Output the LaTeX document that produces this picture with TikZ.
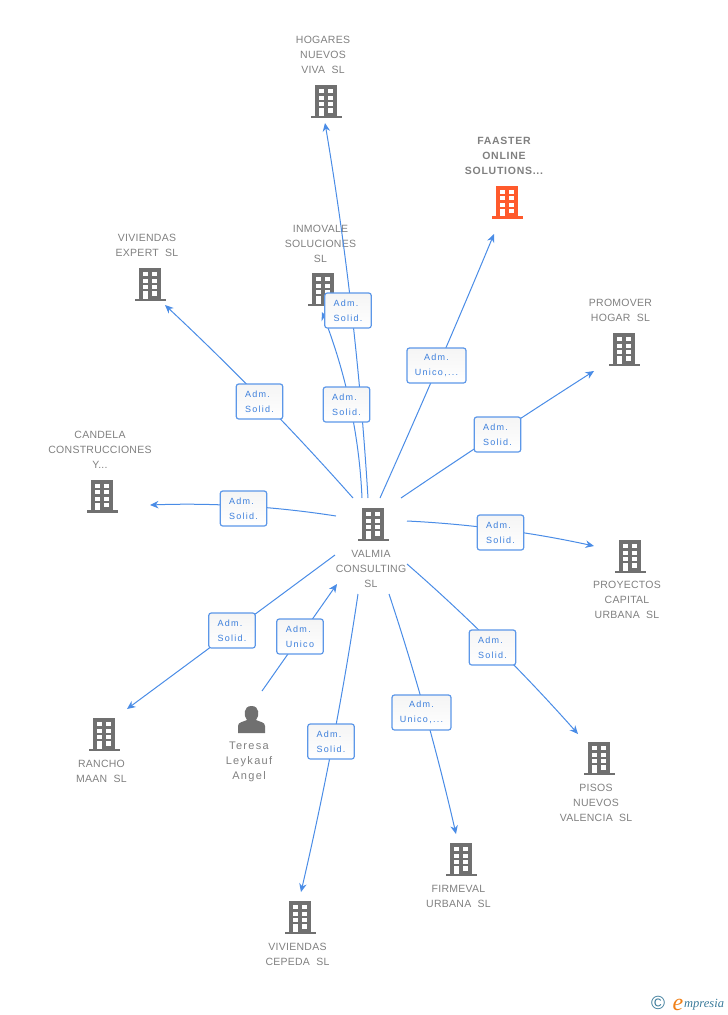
\documentclass[tikz,border=0pt]{standalone}
\usepackage{fontspec}
\setmainfont{Liberation Sans}
\newfontfamily\lblfont[LetterSpace=14]{Liberation Sans}
\newfontfamily\namefont[LetterSpace=2.5]{Liberation Sans}
\newfontfamily\hotfont[LetterSpace=7]{Liberation Sans}
\newfontfamily\perfont[LetterSpace=12]{Liberation Sans}
\newfontfamily\logofont{Liberation Serif}
\usetikzlibrary{arrows.meta,calc}
\definecolor{edgeblue}{HTML}{4A8CE6}
\definecolor{boxblue}{HTML}{5C97E8}
\definecolor{txtblue}{HTML}{3C7FDC}
\definecolor{iconGrey}{HTML}{707070}
\definecolor{txtGrey}{HTML}{808080}
\definecolor{hot}{HTML}{FF5A2C}
\definecolor{logoteal}{HTML}{3A7A9A}
\definecolor{logoorange}{HTML}{F08018}
\newcommand{\bentlink}[3]{\draw[arrowlink] (#1) .. controls ($(#1)!0.6667!(#2)$) and ($(#3)!0.6667!(#2)$) .. (#3);}
\tikzset{
  x=1pt,y=-1pt,
  bldgshape/.pic={
    \fill[pic actions] (-11,-16.5) rectangle (11,16.5);
    \fill[pic actions] (-15.5,14) rectangle (15.5,16.5);
    \fill[white] (-7.5,-12.5) rectangle (-2.5,-8.5);
    \fill[white] (2,-12.5) rectangle (7,-8.5);
    \fill[white] (-7.5,-6) rectangle (-2.5,-2);
    \fill[white] (2,-6) rectangle (7,-2);
    \fill[white] (-7.5,0.5) rectangle (-2.5,4.5);
    \fill[white] (2,0.5) rectangle (7,4.5);
    \fill[white] (-7.5,6.5) rectangle (-2.5,14);
    \fill[white] (2,6.5) rectangle (7,11);
  },
  iconbox/.style={inner sep=0pt,minimum width=31pt,minimum height=33pt},
  nametext/.style={align=center,text=txtGrey,inner sep=0pt,font=\fontsize{10.5}{15}\namefont},
  hottext/.style={align=center,text=txtGrey,inner sep=0pt,font=\fontsize{10.5}{15}\hotfont\bfseries},
  pertext/.style={align=center,text=txtGrey,inner sep=0pt,font=\fontsize{11}{15}\perfont},
  link/.style={draw=edgeblue,line width=1pt},
  arrowlink/.style={link,-{Stealth[length=8.5pt,width=7.5pt]}},
  rolebox/.style={draw=boxblue,line width=1.2pt,rounded corners=2.5pt,top color=black!4,bottom color=white,
     text=txtblue,inner sep=0pt,minimum height=35pt,font=\fontsize{9}{15}\lblfont},
  solidbox/.style={rolebox,minimum width=46.5pt,align=left},
  unicobox/.style={rolebox,minimum width=59pt,align=center},
}
\begin{document}
\begin{tikzpicture}
\useasboundingbox (0,0) rectangle (728,1015);
% icons
\node[iconbox] (hogares) at (326,101.5) {};   \pic[iconGrey] at (hogares) {bldgshape};
\node[iconbox] (faaster) at (507,202) {};     \pic[hot] at (faaster) {bldgshape};
\node[iconbox] (expert) at (150,284.5) {};    \pic[iconGrey] at (expert) {bldgshape};
\node[iconbox] (inmovale) at (323,289.5) {};  \pic[iconGrey] at (inmovale) {bldgshape};
\node[iconbox] (promover) at (624,349.5) {};  \pic[iconGrey] at (promover) {bldgshape};
\node[iconbox] (candela) at (102,496) {};     \pic[iconGrey] at (candela) {bldgshape};
\node[iconbox] (valmia) at (373,524.5) {};    \pic[iconGrey] at (valmia) {bldgshape};
\node[iconbox] (proyectos) at (630,556.5) {}; \pic[iconGrey] at (proyectos) {bldgshape};
\node[iconbox] (rancho) at (104,734.5) {};    \pic[iconGrey] at (rancho) {bldgshape};
\node[iconbox] (pisos) at (599,758.5) {};     \pic[iconGrey] at (pisos) {bldgshape};
\node[iconbox] (firmeval) at (461,859.5) {};  \pic[iconGrey] at (firmeval) {bldgshape};
\node[iconbox] (cepeda) at (300,917.5) {};    \pic[iconGrey] at (cepeda) {bldgshape};
% person
\node[inner sep=0pt,minimum width=27pt,minimum height=27pt] (teresa) at (251.5,719.5) {};
\fill[iconGrey] (238,733) -- (238,726) .. controls (238,722) and (243,722) .. (247,720)
  .. controls (243.5,716) and (243,706) .. (251.5,706)
  .. controls (260,706) and (259.5,716) .. (256,720)
  .. controls (260,722) and (265,722) .. (265,726) -- (265,733) -- cycle;
% names
\node[nametext] (hogaresT) at (323,55) {HOGARES\\NUEVOS\\VIVA\ \ SL};
\node[hottext] (faasterT) at (504,155.5) {FAASTER\\ONLINE\\SOLUTIONS...};
\node[nametext] (expertT) at (147,245.5) {VIVIENDAS\\EXPERT\ \ SL};
\node[nametext] (inmovaleT) at (320.5,244) {INMOVALE\\SOLUCIONES\\SL};
\node[nametext] (promoverT) at (620.5,310.5) {PROMOVER\\HOGAR\ \ SL};
\node[nametext] (candelaT) at (100,450) {CANDELA\\CONSTRUCCIONES\\Y...};
\node[nametext] (valmiaT) at (371,569) {VALMIA\\CONSULTING\\SL};
\node[nametext] (proyectosT) at (627,600) {PROYECTOS\\CAPITAL\\URBANA\ \ SL};
\node[nametext] (ranchoT) at (101.5,771.5) {RANCHO\\MAAN\ \ SL};
\node[nametext] (pisosT) at (596,803) {PISOS\\NUEVOS\\VALENCIA\ \ SL};
\node[nametext] (firmevalT) at (458.5,896.5) {FIRMEVAL\\URBANA\ \ SL};
\node[nametext] (cepedaT) at (297.5,954.5) {VIVIENDAS\\CEPEDA\ \ SL};
\node[pertext] (teresaT) at (249,762) {Teresa\\Leykauf\\Angel};
% connector ends
\coordinate (e1) at (368,498);   \coordinate (t1) at (325,123);   \coordinate (q1) at (356.5,309.5);
\coordinate (e2) at (362,498);   \coordinate (t2) at (322,312);   \coordinate (q2) at (358,405);
\coordinate (e3) at (380,498);   \coordinate (t3) at (494,234);   \coordinate (q3) at (440,364);
\coordinate (e4) at (401,498);   \coordinate (t4) at (594,371);   \coordinate (q4) at (497,433);
\coordinate (e5) at (407,521);   \coordinate (t5) at (594,546);   \coordinate (q5) at (500,525.5);
\coordinate (e6) at (407,564);   \coordinate (t6) at (578,734);   \coordinate (q6) at (495.5,641);
\coordinate (e7) at (389,594);   \coordinate (t7) at (456,834);   \coordinate (q7) at (427.5,710);
\coordinate (e8) at (358,594);   \coordinate (t8) at (301,892);   \coordinate (q8) at (336.5,739);
\coordinate (e9) at (262,691);   \coordinate (t9) at (337,584);
\coordinate (e10) at (335,555);  \coordinate (t10) at (127,709);
\coordinate (e11) at (336,516);  \coordinate (t11) at (150,505);  \coordinate (q11) at (243,501.5);
\coordinate (e12) at (353,498);  \coordinate (t12) at (165,305);  \coordinate (q12) at (265,398.5);
% connectors
\bentlink{e1}{q1}{t1}
\bentlink{e2}{q2}{t2}
\bentlink{e3}{q3}{t3}
\bentlink{e4}{q4}{t4}
\bentlink{e5}{q5}{t5}
\bentlink{e6}{q6}{t6}
\bentlink{e7}{q7}{t7}
\bentlink{e8}{q8}{t8}
\draw[arrowlink] (e9) -- (t9);
\draw[arrowlink] (e10) -- (t10);
\bentlink{e11}{q11}{t11}
\bentlink{e12}{q12}{t12}
% labels
\node[solidbox] (l1) at (348,310.5) {Adm.\\Solid.};
\node[solidbox] (l2) at (346.5,404.5) {Adm.\\Solid.};
\node[unicobox] (l3) at (436.5,365.5) {Adm.\\Unico,...};
\node[solidbox] (l4) at (497.5,434.5) {Adm.\\Solid.};
\node[solidbox] (l5) at (500.5,532.5) {Adm.\\Solid.};
\node[solidbox] (l6) at (492.5,647.5) {Adm.\\Solid.};
\node[unicobox] (l7) at (421.5,712.5) {Adm.\\Unico,...};
\node[solidbox] (l8) at (331,741.5) {Adm.\\Solid.};
\node[solidbox] (l9) at (300,636.5) {Adm.\\Unico};
\node[solidbox] (l10) at (232,630.5) {Adm.\\Solid.};
\node[solidbox] (l11) at (243.5,508.5) {Adm.\\Solid.};
\node[solidbox] (l12) at (259.5,401.5) {Adm.\\Solid.};
% logo
\node[inner sep=0pt,text=logoteal,font=\fontsize{19}{19}\selectfont] (logoC) at (658,1003) {©};
\node[inner sep=0pt,text=logoorange,font=\fontsize{24}{24}\logofont\itshape] (logoE) at (678,1005) {e};
\node[inner sep=0pt,text=logoteal,anchor=west,font=\fontsize{12.5}{13}\logofont\itshape] (logoT) at (684,1005) {mpresia};
\end{tikzpicture}
\end{document}
